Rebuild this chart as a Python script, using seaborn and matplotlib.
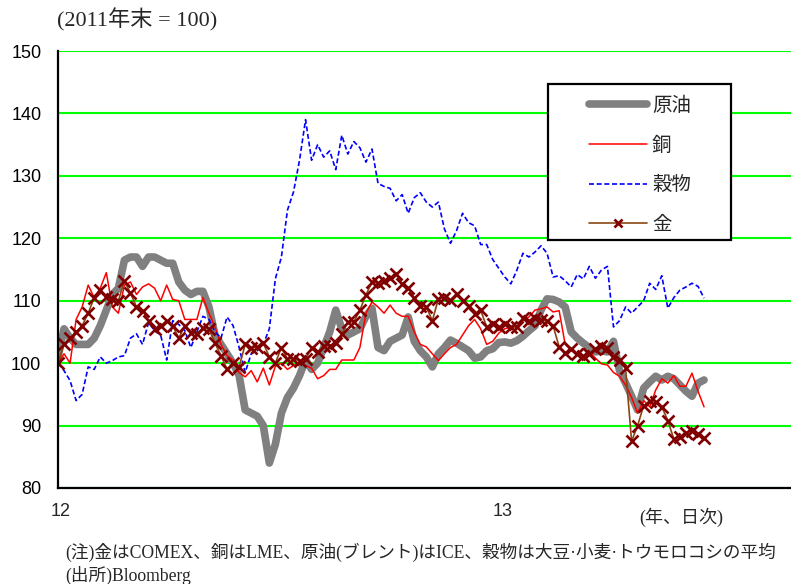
import matplotlib.pyplot as plt
import pandas as pd
import seaborn as sns
from matplotlib.patches import Rectangle

# sampled every 5 days from end of 2011 (=100)
dates = pd.date_range('2011-12-30', periods=108, freq='5D')

oil = [101, 105.5, 104, 103, 103, 103, 104, 106, 108.5, 111,
       112, 116.5, 117, 117, 115.5, 117, 117, 116.5, 116, 116,
       113, 111.7, 111, 111.5, 111.5, 109, 104.5, 103, 101.5, 100,
       98, 92.5, 92, 91.5, 90, 84, 87, 92, 94.5, 96,
       98, 100.5, 99, 100, 102.5, 105, 108.5, 105.5, 104.5, 105,
       105.5, 107.5, 108.8, 102.5, 102, 103.5, 104, 104.5, 107.4, 103.5,
       102, 101, 99.4, 101.5, 102.5, 103.7, 103.2, 102.6, 102, 100.8,
       101, 102, 102.3, 103.3, 103.4, 103.2, 103.6, 104.3, 105.2, 106,
       108.5, 110.3, 110.2, 109.8, 109, 105, 104, 103.2, 102.5, 101.8,
       102, 101.8, 103.5, 98.8, 96.8, 94.7, 92.5, 96, 97, 97.9,
       97.3, 97.9, 97.5, 96.5, 95.5, 94.7, 96.8, 97.3]

copper = [100, 101.5, 100, 107, 109, 112.5, 110.5, 112, 114.5, 109,
          108, 112.5, 113, 111, 112.2, 112.7, 112, 110, 112.5, 110.2,
          110, 107, 107, 107, 110.5, 108, 105.8, 103, 101.2, 100.5,
          98.5, 97.8, 98.8, 97, 99.2, 96.5, 99.5, 100, 99, 99.6,
          100.2, 99.6, 99.2, 97.5, 98, 99, 99, 100.5, 100.5, 100.5,
          102.5, 108, 109.8, 109, 108, 109.3, 108, 107.5, 107.5, 105,
          103, 102.6, 101.5, 100.4, 101.5, 102.5, 103, 104.5, 106, 107,
          105.5, 103, 103.5, 104.8, 105.5, 105.8, 105.8, 106.8, 107.4, 108.5,
          108.7, 109, 108.2, 108.4, 103, 102, 101.5, 102.3, 101.8, 100.8,
          99.9, 99.7, 98.5, 97.9, 96.5, 94.5, 92, 94, 93, 95.7,
          97.5, 96.8, 98, 96.3, 96.3, 98.4, 95.5, 93]

grain = [100, 98.8, 97.2, 94, 95, 99.4, 99, 101, 100, 100.4,
         101, 101.2, 104, 104.7, 103, 106.5, 105.2, 104.5, 100.5, 106.8,
         106.2, 105.2, 102.5, 105, 107.5, 107, 105, 104, 107.4, 106,
         102.5, 98.5, 101.5, 102, 103, 105.5, 113.5, 117, 124.5, 127.4,
         132.5, 139, 132.5, 135, 133, 134, 131, 136.5, 133.5, 135.5,
         134.5, 132.2, 134.3, 128.8, 128.3, 128, 126, 127, 124, 126.5,
         127.3, 125.8, 125, 125.8, 121.5, 119.2, 121.2, 124, 122.5, 122,
         119, 119, 116.6, 115.2, 113.8, 112.7, 114.9, 117.6, 117, 117.8,
         118.8, 117.6, 113.8, 114, 113.2, 112.2, 114.2, 113.5, 115.5, 113.6,
         114.9, 115.5, 105.8, 106.8, 109, 108, 109, 110, 112.8, 111.8,
         114, 108.8, 110.5, 111.7, 112.2, 112.8, 112.3, 110.4]

gold = [100, 103, 104, 105, 106, 108, 110.5, 111.7, 110.6, 110.2,
        110, 113.2, 111.2, 109, 108.4, 106.8, 105.4, 106, 106.8, 106,
        104, 106, 104.8, 104.7, 105.7, 105.5, 103.2, 101.2, 99, 100,
        99.4, 103, 102.5, 102.6, 103.2, 101, 100, 102.5, 100.7, 100.7,
        100.4, 100.7, 102.5, 101.8, 102.8, 102.8, 103.2, 104.7, 106.6, 106.6,
        108.5, 110.9, 113, 112.8, 113.2, 113.6, 114.2, 112.7, 112, 110.5,
        109.2, 109, 106.8, 110.3, 110.4, 110.1, 111.1, 110, 109.1, 107.9,
        108.5, 105.8, 106.3, 105.8, 106.3, 105.8, 105.8, 107.2, 106.8, 107.3,
        106.9, 106.8, 106, 102.6, 101.6, 102.2, 101.5, 101.1, 101.5, 102.2,
        102.7, 102.5, 101, 100.5, 99.2, 87.5, 90, 93.2, 93.9, 93.7,
        93, 90.8, 87.8, 88.2, 88.8, 89.2, 88.6, 88]

labels = ['原油', '銅', '穀物', '金']
jp = ['Noto Sans CJK JP', 'DejaVu Sans']
mixed = ['Liberation Serif', 'Noto Sans CJK JP']

sns.set_style('white')
plt.rcParams['font.family'] = jp

fig = plt.figure(figsize=(7.91, 5.84), dpi=100)
ax = fig.add_axes([58 / 791, 1 - 488 / 584, 1 - 58 / 791, 437 / 584])

sns.lineplot(x=dates, y=oil, ax=ax, color='#808080', linewidth=5.5,
             solid_capstyle='round', label=labels[0])
sns.lineplot(x=dates, y=copper, ax=ax, color='#FF0000', linewidth=1.1,
             label=labels[1])
sns.lineplot(x=dates, y=grain, ax=ax, color='#0000FF', linewidth=1.2,
             linestyle=(0, (3, 1.6)), label=labels[2])
sns.lineplot(x=dates, y=gold, ax=ax, color='#8B4513', linewidth=1.2,
             marker='x', markersize=8, markeredgewidth=1.9,
             markeredgecolor='#800000', markerfacecolor='#800000', label=labels[3])

ax.set_ylim(80, 150)
ax.set_xlim(pd.Timestamp('2011-12-30'), pd.Timestamp('2013-08-28'))
ax.set_yticks(range(80, 151, 10))
ax.yaxis.grid(True, color='#00FF00', linewidth=1.5)
ax.xaxis.grid(False)
ax.set_xticks([pd.Timestamp('2012-01-01'), pd.Timestamp('2013-01-01')])
ax.set_xticklabels(['12', '13'])
ax.tick_params(axis='y', direction='in', length=4, width=1.2, pad=12,
               labelsize=13, colors='black')
ax.tick_params(axis='x', length=0, pad=11, labelsize=13)
for t in ax.get_xticklabels() + ax.get_yticklabels():
    t.set_fontfamily('Liberation Sans')
ax.set_xlabel('')
ax.set_ylabel('')

for s in ['top', 'right']:
    ax.spines[s].set_visible(False)
for s in ['left', 'bottom']:
    ax.spines[s].set_color('black')
    ax.spines[s].set_linewidth(1.6)

# legend box drawn separately so the padding matches
ax.add_patch(Rectangle((0.6685, 0.5675), 0.2495, 0.357, transform=ax.transAxes,
                       facecolor='white', edgecolor='black', linewidth=1.6,
                       zorder=5))
leg = ax.legend(loc='upper left', bbox_to_anchor=(0.724, 0.9), borderaxespad=0,
                borderpad=0, fontsize=14, handlelength=3.0, labelspacing=0.97,
                handletextpad=0.25, frameon=False, markerscale=0.8)
leg.set_zorder(6)
for line in leg.get_lines():
    line.set_solid_capstyle('round')

fig.text(57 / 791, 1 - 20 / 584, '(2011年末 = 100)', family=mixed, fontsize=16,
         ha='left', va='center')
fig.text(681 / 791, 1 - 517 / 584, '(年、日次)', family=mixed, fontsize=13,
         ha='center', va='center')
fig.text(65 / 791, 1 - 552 / 584,
         '(注)金はCOMEX、銅はLME、原油(ブレント)はICE、穀物は大豆·小麦·トウモロコシの平均',
         family=mixed, fontsize=12.7, ha='left', va='center')
fig.text(65 / 791, 1 - 575 / 584, '(出所)Bloomberg', family=mixed, fontsize=12.7,
         ha='left', va='center')

fig.savefig('out.png', dpi=100)
